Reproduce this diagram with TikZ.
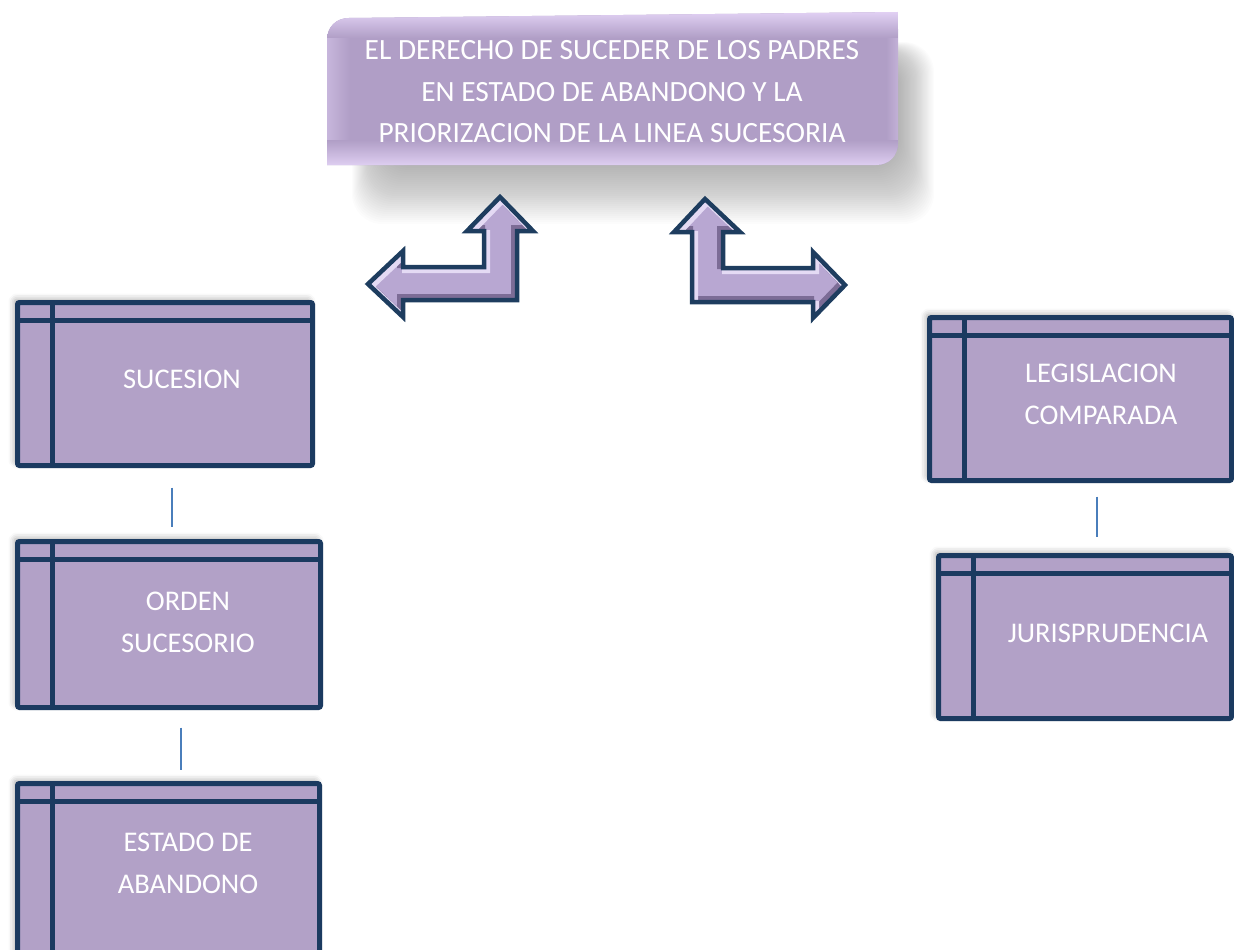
\documentclass[tikz,border=0pt]{standalone}
\usepackage{fontspec}
\setmainfont{Carlito}
\usetikzlibrary{calc,shadows.blur}
\definecolor{boxfill}{HTML}{B2A1C7}
\definecolor{boxline}{HTML}{1B3A60}
\definecolor{connc}{HTML}{4A7EBB}
\definecolor{titlefill}{HTML}{B09EC6}
\definecolor{titlelight}{HTML}{E8D8FA}
\definecolor{arrfill}{HTML}{B8A7D2}
\definecolor{arrlight}{HTML}{E4DAF4}
\definecolor{arrdark}{HTML}{7C6C96}
\definecolor{arrline}{HTML}{1E3D5F}
\begin{document}
\begin{tikzpicture}[x=1pt,y=-1pt,
  catbox/.style={draw=boxline, line width=5pt, fill=boxfill, rounded corners=2pt, inner sep=0pt,
    blur shadow={shadow xshift=-3pt, shadow yshift=3pt, shadow blur radius=6pt, shadow opacity=35}},
  divider/.style={draw=boxline, line width=5pt},
  lbl/.style={text=white, font=\fontsize{28.5}{42}\selectfont, align=center, inner sep=0pt},
  conn/.style={draw=connc, line width=1.5pt},
  arrbody/.style={fill=arrfill},
  arrborder/.style={draw=arrline, line width=4.5pt, line join=miter}]
\useasboundingbox (0,0) rectangle (1234,950);
\clip (0,0) rectangle (1234,950);

% ---- title shadow
\foreach \i in {0,...,29} {
  \fill[black, opacity=0.013, rounded corners=30pt] (352+\i, 42+0.5*\i) rectangle (934-1.2*\i, 224-2*\i);
}
% ---- title shape
\def\tshape{(327,165) -- (327,40) .. controls (327,27) and (336,18) .. (349,18) -- (898,12) -- (898,143) .. controls (898,156) and (889,165) .. (876,165) -- cycle}
\begin{scope}
  \clip \tshape;
  \fill[titlefill] \tshape;
  \shade[left color=titlelight!45!titlefill, right color=titlefill] (325,36) rectangle (350,146);
  \shade[left color=titlefill, right color=titlelight!35!titlefill] (886,30) rectangle (899,146);
  \shade[top color=titlelight, bottom color=titlefill] (320,8) rectangle (905,38);
  \shade[top color=titlefill, bottom color=titlelight!85!titlefill] (320,140) rectangle (905,166);
\end{scope}
\node[lbl, font=\fontsize{29.4}{41.5}\selectfont] (title) at (612,92)
  {EL DERECHO DE SUCEDER DE LOS PADRES\\EN ESTADO DE ABANDONO Y LA\\PRIORIZACION DE LA LINEA SUCESORIA};

% ---- bent arrows
\def\larrow{(500,197) -- (533,231) -- (517,231) -- (517,300) -- (403,300) -- (403,317) -- (368,284) -- (403,251) -- (403,267) -- (484,267) -- (484,231) -- (467,231) -- cycle}
\def\rarrow{(705,199) -- (740,232) -- (723,232) -- (723,268) -- (813,268) -- (813,252) -- (845,285) -- (813,318) -- (813,302) -- (692,302) -- (692,232) -- (674,232) -- cycle}
\begin{scope}
  \clip \larrow;
  \fill[arrbody] \larrow;
  \draw[arrdark, line width=7pt, shift={(-2.5,-2.5)}] \larrow;
  \draw[arrlight, line width=7pt, shift={(2.5,2.5)}] \larrow;
\end{scope}
\draw[arrborder] \larrow;
\begin{scope}
  \clip \rarrow;
  \fill[arrbody] \rarrow;
  \draw[arrdark, line width=7pt, shift={(-2.5,-2.5)}] \rarrow;
  \draw[arrlight, line width=7pt, shift={(2.5,2.5)}] \rarrow;
\end{scope}
\draw[arrborder] \rarrow;

% ---- boxes
\node[catbox, minimum width=295pt, minimum height=163pt] (suc) at (165,384) {};
\node[catbox, minimum width=303pt, minimum height=166pt] (ord) at (169,624.5) {};
\node[catbox, minimum width=302pt, minimum height=176pt] (est) at (168.5,871.5) {};
\node[catbox, minimum width=302pt, minimum height=163pt] (leg) at (1080.5,399) {};
\node[catbox, minimum width=293pt, minimum height=163pt] (jur) at (1085,637) {};
\foreach \b in {suc,ord,est,leg,jur} {
  \draw[divider] ($(\b.north west)+(0,20.5)$) -- ($(\b.north east)+(0,20.5)$);
  \draw[divider] ($(\b.north west)+(37,0)$) -- ($(\b.south west)+(37,0)$);
}
\node[lbl] (suct) at (182,379) {SUCESION};
\node[lbl] (ordt) at (188,622) {ORDEN\\SUCESORIO};
\node[lbl] (estt) at (188,863) {ESTADO DE\\ABANDONO};
\node[lbl] (legt) at (1101,394) {LEGISLACION\\COMPARADA};
\node[lbl] (jurt) at (1108,633) {JURISPRUDENCIA};

% ---- connectors
\draw[conn] ($(suc.south)+(7,19.5)$) -- ($(ord.north)+(3,-12.5)$);
\draw[conn] ($(ord.south)+(12,17.5)$) -- ($(est.north)+(12.5,-11.5)$);
\draw[conn] ($(leg.south)+(16.5,13.5)$) -- ($(jur.north)+(12,-16.5)$);
\end{tikzpicture}
\end{document}
